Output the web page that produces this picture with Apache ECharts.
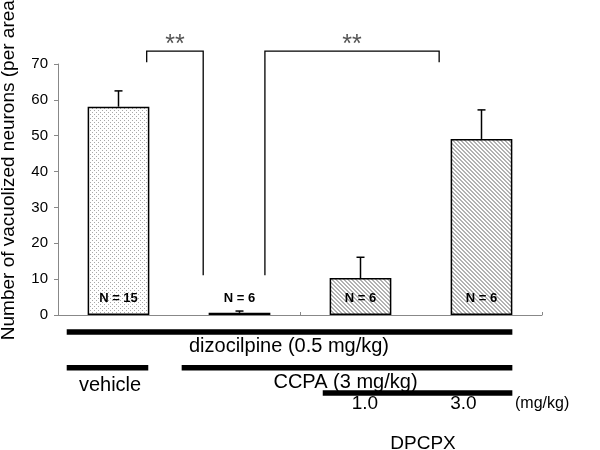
<!DOCTYPE html>
<html><head><meta charset="utf-8">
<script src="https://cdn.jsdelivr.net/npm/echarts@6/dist/echarts.min.js"></script>
<style>html,body{margin:0;padding:0;background:#fff}#c{width:600px;height:450px}</style>
</head><body><div id="c"></div>
<script>
// ---- data ----
const categories = ['vehicle', 'dizocilpine', 'dizocilpine + CCPA + DPCPX 1.0', 'dizocilpine + CCPA + DPCPX 3.0'];
const means = [58.1, 0.6, 10.3, 49.1];
const errUpper = [62.5, 1.1, 16.1, 57.2];
const nLabels = ['N = 15', 'N = 6', 'N = 6', 'N = 6'];
const barPatterns = ['dots', 'plain', 'hatch', 'hatch'];
const yMin = 0, yMax = 70, yStep = 10;
const yTitle = 'Number of vacuolized neurons (per area)';
const sigLabels = ['**', '**'];
const treatmentLabels = ['dizocilpine (0.5 mg/kg)', 'vehicle', 'CCPA (3 mg/kg)', '1.0', '3.0', '(mg/kg)', 'DPCPX'];

// ---- layout (category units on x, value / pixel offsets on y) ----
const FONT = 'Liberation Sans, Arial, sans-serif';
const bracketLayout = [
  {x0: 0.733, x1: 1.20, top: 73.6, left: 70.5, right: 11.1, textY: 75.3},
  {x0: 1.71, x1: 3.15, top: 73.6, left: 11.1, right: 70.5, textY: 75.3}
];
const lineLayout = [
  {x0: 0.072, x1: 3.755, dy: 17},
  {x0: 0.072, x1: 0.746, dy: 52.7},
  {x0: 1.022, x1: 3.755, dy: 52.7},
  {x0: 2.188, x1: 3.755, dy: 78}
];
const textLayout = [
  {x: 1.909, dy: 31.7, size: 20, align: 'center'},
  {x: 0.43, dy: 70, size: 20, align: 'center'},
  {x: 2.376, dy: 67.5, size: 20, align: 'center'},
  {x: 2.537, dy: 89, size: 19, align: 'center'},
  {x: 3.35, dy: 89, size: 19, align: 'center'},
  {x: 3.777, dy: 89, size: 16, align: 'left'},
  {x: 3.017, dy: 129, size: 19, align: 'center'}
];

function makePattern(kind) {
  const c = document.createElement('canvas');
  c.width = 4; c.height = 4;
  const g = c.getContext('2d');
  g.fillStyle = '#fff'; g.fillRect(0, 0, 4, 4);
  if (kind === 'dots') {
    g.fillStyle = '#a8a8a8';
    g.fillRect(0, 0, 1, 1); g.fillRect(2, 2, 1, 1);
  } else if (kind === 'hatch') {
    g.fillStyle = '#b2b2b2';
    for (let y = 0; y < 4; y++) for (let x = 0; x < 4; x++) {
      const d = ((x - y) % 4 + 4) % 4;
      if (d === 0 || d === 1) g.fillRect(x, y, 1, 1);
    }
  }
  return {image: c, repeat: 'repeat'};
}

const chart = echarts.init(document.getElementById('c'), null, {renderer: 'canvas'});

const option = {
  animation: false,
  backgroundColor: '#fff',
  grid: {left: 58, right: 58, top: 64, bottom: 135, containLabel: false},
  xAxis: [
    {type: 'category', data: categories, boundaryGap: true,
     axisLine: {lineStyle: {color: '#888', width: 1}},
     axisTick: {show: true, inside: true, length: 3, lineStyle: {color: '#888'}},
     axisLabel: {show: false}, splitLine: {show: false}},
    {type: 'value', min: 0, max: categories.length, show: false}
  ],
  yAxis: {type: 'value', min: yMin, max: yMax, interval: yStep,
    axisLine: {show: true, lineStyle: {color: '#888', width: 1}},
    axisTick: {show: true, length: 4, lineStyle: {color: '#888'}},
    axisLabel: {color: '#000', fontSize: 15, fontFamily: FONT, margin: 10},
    splitLine: {show: false}},
  graphic: [{
    type: 'text', x: 9, y: 167, rotation: Math.PI / 2,
    style: {text: yTitle, font: '19px ' + FONT, fill: '#000',
      textAlign: 'center', textVerticalAlign: 'middle', align: 'center', verticalAlign: 'middle'}
  }],
  series: [
    {type: 'bar', barWidth: '51%',
     data: means.map((v, i) => ({value: v, itemStyle: {
       color: barPatterns[i] === 'plain' ? '#000' : makePattern(barPatterns[i]),
       borderColor: '#000', borderWidth: 1.5}})),
     z: 2},
    {type: 'custom', z: 3,
     data: means.map((v, i) => [i, v, errUpper[i]]),
     renderItem(params, api) {
       const a = api.coord([api.value(0), api.value(1)]);
       const b = api.coord([api.value(0), api.value(2)]);
       return {type: 'group', children: [
         {type: 'line', shape: {x1: a[0], y1: a[1], x2: b[0], y2: b[1]}, style: {stroke: '#000', lineWidth: 1.5}},
         {type: 'line', shape: {x1: b[0] - 4, y1: b[1], x2: b[0] + 4, y2: b[1]}, style: {stroke: '#000', lineWidth: 1.5}}
       ]};
     }},
    {type: 'custom', z: 4,
     data: nLabels.map((t, i) => [i, 4.7]),
     renderItem(params, api) {
       const p = api.coord([api.value(0), api.value(1)]);
       return {type: 'text', x: p[0], y: p[1], style: {text: nLabels[params.dataIndex],
         font: 'bold 13px ' + FONT, fill: '#000', align: 'center', verticalAlign: 'middle'}};
     }},
    {type: 'custom', xAxisIndex: 1, z: 5,
     data: bracketLayout.map((b, i) => [i]),
     renderItem(params, api) {
       const b = bracketLayout[params.dataIndex];
       const tl = api.coord([b.x0, b.top]), tr = api.coord([b.x1, b.top]);
       const bl = api.coord([b.x0, b.left]), br = api.coord([b.x1, b.right]);
       const t = api.coord([(b.x0 + b.x1) / 2, b.textY]);
       return {type: 'group', children: [
         {type: 'polyline', shape: {points: [bl, tl, tr, br]}, style: {stroke: '#000', lineWidth: 1.3, fill: null}},
         {type: 'text', x: t[0], y: t[1], style: {text: sigLabels[params.dataIndex], font: '25px ' + FONT,
           fill: '#555', align: 'center', verticalAlign: 'middle'}}
       ]};
     }},
    {type: 'custom', xAxisIndex: 1, z: 5,
     data: lineLayout.map((b, i) => [i]),
     renderItem(params, api) {
       const l = lineLayout[params.dataIndex];
       const a = api.coord([l.x0, 0]), b = api.coord([l.x1, 0]);
       return {type: 'line', shape: {x1: a[0], y1: a[1] + l.dy, x2: b[0], y2: b[1] + l.dy},
         style: {stroke: '#000', lineWidth: 5.5}};
     }},
    {type: 'custom', xAxisIndex: 1, z: 5,
     data: textLayout.map((b, i) => [i]),
     renderItem(params, api) {
       const l = textLayout[params.dataIndex];
       const a = api.coord([l.x, 0]);
       return {type: 'text', x: a[0], y: a[1] + l.dy, style: {text: treatmentLabels[params.dataIndex],
         font: l.size + 'px ' + FONT, fill: '#000', align: l.align, verticalAlign: 'middle'}};
     }}
  ]
};
chart.setOption(option);
</script></body></html>
